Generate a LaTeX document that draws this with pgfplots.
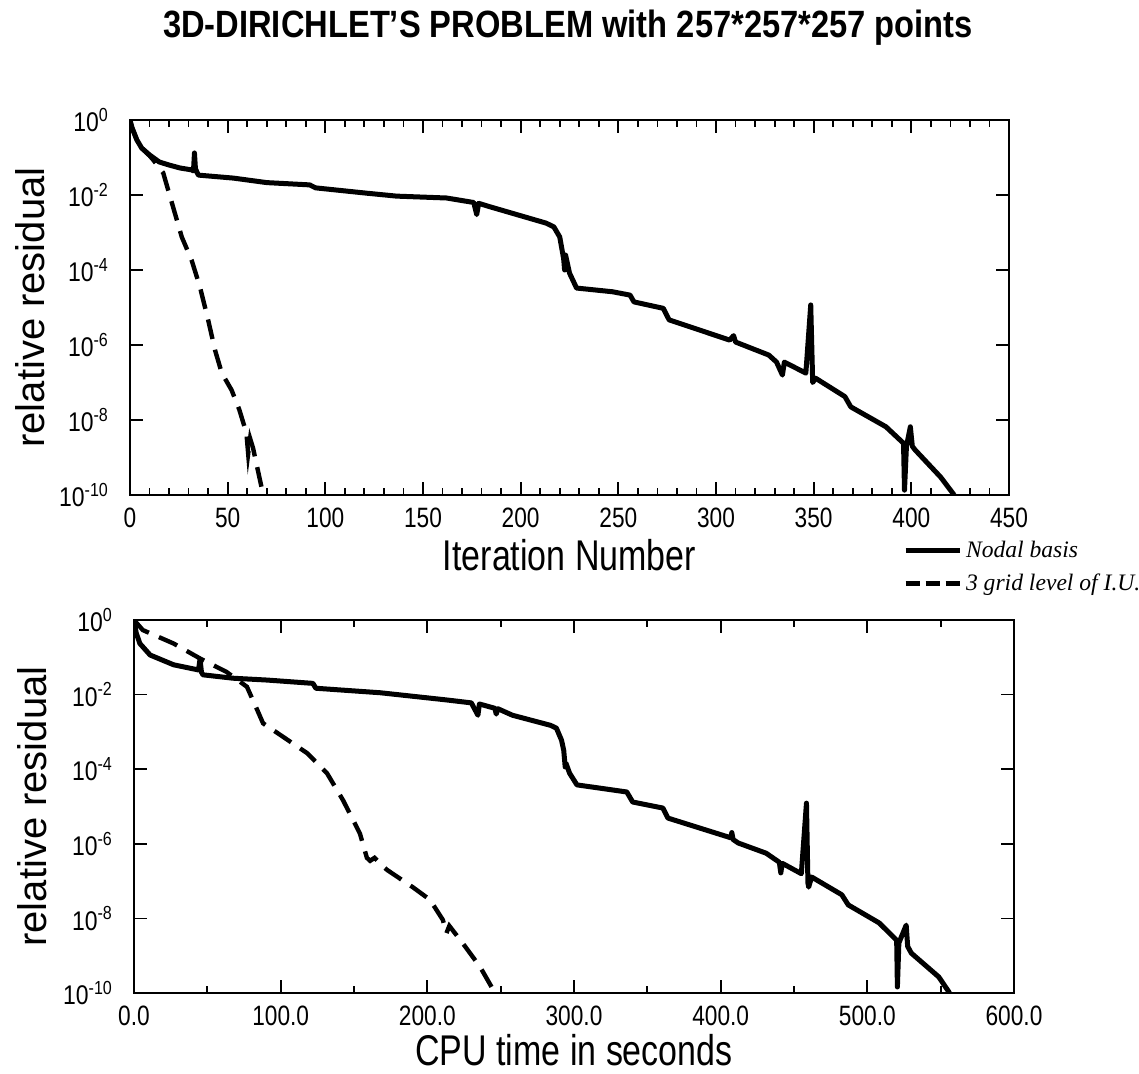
\documentclass[border=0pt]{standalone}
\usepackage{fontspec}
\setmainfont{Liberation Sans}
\newfontfamily\tickfont[FakeStretch=0.81]{Liberation Sans}
\newfontfamily\ytickfont[FakeStretch=0.85]{Liberation Sans}
\newfontfamily\labfont[FakeStretch=0.79]{Liberation Sans}
\newfontfamily\titlefont[FakeStretch=0.86]{Liberation Sans}
\newfontfamily\legfont{Liberation Serif}
\usepackage{pgfplots}
\pgfplotsset{compat=1.18}

\tikzset{
  solidcurve/.style={black, line width=2.5pt, line join=round},
  dashcurve/.style={black, line width=2.2pt, dash pattern=on 10pt off 5.5pt},
}

\begin{document}
\begin{tikzpicture}
\useasboundingbox (-65pt,-289.5pt) rectangle (504.5pt,247.5pt);

\node[anchor=base, font=\titlefont\bfseries\fontsize{19}{22}\selectfont] at (219pt,228.5pt)
  {3D-DIRICHLET’S PROBLEM with 257*257*257 points};

% iterations
\begin{axis}[
  scale only axis,
  at={(0pt,0pt)}, anchor=south west,
  width=439.5pt, height=187.5pt,
  xmin=0, xmax=450,
  ymode=log, ymin=1e-10, ymax=1,
  xtick={0,50,100,150,200,250,300,350,400,450},
  xticklabels={0,50,100,150,200,250,300,350,400,450},
  minor x tick num=4,
  ytick={1e-10,1e-8,1e-6,1e-4,1e-2,1},
  yticklabels={10\textsuperscript{-10},10\textsuperscript{-8},10\textsuperscript{-6},10\textsuperscript{-4},10\textsuperscript{-2},10\textsuperscript{0}},
  yminorticks=false,
  tick align=inside,
  major tick length=6.5pt,
  minor tick length=3.5pt,
  tick style={black, line width=0.9pt},
  axis line style={line width=1pt},
  xticklabel style={font=\tickfont\fontsize{14}{16}\selectfont, yshift=-3pt},
  yticklabel style={font=\ytickfont\fontsize{13.5}{15}\selectfont, xshift=-7pt},
  xlabel={Iteration Number},
  xlabel style={at={(axis description cs:0.5,-0.16)}, anchor=center, font=\labfont\fontsize{21.5}{24}\selectfont},
  ylabel={relative residual},
  ylabel style={at={(axis description cs:-0.114,0.5)}, anchor=center, font=\fontsize{20}{24}\selectfont},
  legend style={at={(axis description cs:0.879,-0.11)}, anchor=north west,
    draw=none, fill=none, inner sep=0pt, row sep=3pt,
    font=\legfont\itshape\fontsize{11.8}{14}\selectfont},
  legend cell align=left,
  legend image code/.code={\draw[#1] (0pt,0pt) -- (27pt,0pt);},
]
\addplot[solidcurve, forget plot] coordinates {
(0,1) (1,0.63) (3.5,0.295) (6,0.178) (10,0.117) (15,0.0759) (20,0.063)
(25.6,0.0525) (31.5,0.0468) (32.5,0.0437) (33,0.132) (33.5,0.05) (35,0.0339)
(53,0.0282) (70,0.0214) (92,0.0186) (95,0.0155) (121,0.0112) (136.5,0.00933)
(162,0.00832) (176,0.00631) (177.5,0.0030) (178.5,0.0060) (184,0.0049)
(213,0.00178) (217,0.00141) (220,7.6e-4) (222,2.0e-4) (222.5,1e-4) (223,2.5e-4)
(225,8.3e-5) (228.6,3.3e-5) (247,2.63e-5) (256,2.14e-5) (258,1.41e-5)
(273,9.5e-6) (276,4.68e-6) (307,1.35e-6) (309,1.78e-6) (310,1.2e-6)
(327,5.4e-7) (331,3.5e-7) (334,1.58e-7) (335,3.5e-7) (346,1.78e-7)
(348.5,1.17e-5) (349.5,1e-7) (351,1.3e-7) (366,4.2e-8) (369,2.24e-8)
(387,6.6e-9) (396,2.4e-9) (396.5,1.35e-10) (397.5,2e-9) (399.5,6.6e-9)
(400.5,2e-9) (402,1.58e-9) (415,3e-10) (421.5,1.07e-10) (422,1e-10)
};
\addplot[dashcurve, forget plot] coordinates {
(0,1) (1,0.63) (3.5,0.295) (6,0.178) (10,0.112) (12,0.085) (17,0.039)
(22,4.9e-3) (26.5,7.6e-4) (31.5,1.86e-4) (35.8,3.55e-5) (40,4.68e-6)
(43.5,7.4e-7) (47,1.78e-7) (52,6.3e-8) (56,1.86e-8) (59.6,4.5e-9)
(60.5,1.26e-9) (61.5,3.2e-9) (63,1.78e-9) (68,1.12e-10) (68.3,1e-10)
};
\addlegendimage{black, line width=2.5pt}
\addlegendentry{Nodal basis}
\addlegendimage{black, line width=2.5pt, dash pattern=on 7pt off 3pt}
\addlegendentry{3 grid level of I.U.}
\end{axis}

% cpu time
\begin{axis}[
  scale only axis,
  at={(2pt,-249pt)}, anchor=south west,
  width=440pt, height=186.5pt,
  xmin=0, xmax=600,
  ymode=log, ymin=1e-10, ymax=1,
  xtick={0,100,200,300,400,500,600},
  xticklabels={0.0,100.0,200.0,300.0,400.0,500.0,600.0},
  minor x tick num=1,
  ytick={1e-10,1e-8,1e-6,1e-4,1e-2,1},
  yticklabels={10\textsuperscript{-10},10\textsuperscript{-8},10\textsuperscript{-6},10\textsuperscript{-4},10\textsuperscript{-2},10\textsuperscript{0}},
  yminorticks=false,
  tick align=inside,
  major tick length=6.5pt,
  minor tick length=3.5pt,
  tick style={black, line width=0.9pt},
  axis line style={line width=1pt},
  xticklabel style={font=\tickfont\fontsize{14}{16}\selectfont, yshift=-3pt},
  yticklabel style={font=\ytickfont\fontsize{13.5}{15}\selectfont, xshift=-7pt},
  xlabel={CPU time in seconds},
  xlabel style={at={(axis description cs:0.5,-0.153)}, anchor=center, font=\labfont\fontsize{21.5}{24}\selectfont},
  ylabel={relative residual},
  ylabel style={at={(axis description cs:-0.116,0.5)}, anchor=center, font=\fontsize{20}{24}\selectfont},
]
\addplot[solidcurve] coordinates {
(0,1) (1.5,0.45) (4,0.234) (11,0.115) (27,0.063) (44,0.0457) (45,0.089)
(46,0.04) (47,0.0339) (67.5,0.0275) (91,0.0245) (122,0.02) (124,0.0148)
(168,0.0112) (213,7.2e-3) (230,6.0e-3) (234.5,2.8e-3) (235.5,5.6e-3)
(246,4.3e-3) (247,3.0e-3) (248,4.2e-3) (258,2.8e-3) (284,1.5e-3)
(288,1.26e-3) (291.5,6.0e-4) (293,3.2e-4) (294,1.15e-4) (294.5,1.45e-4)
(297,7.8e-5) (302,3.8e-5) (336,2.45e-5) (340,1.32e-5) (360.6,9.1e-6)
(364,4.9e-6) (406.9,1.45e-6) (407.6,2.0e-6) (408.5,1.3e-6) (412,1.05e-6)
(431,5.6e-7) (440,3.2e-7) (441,1.66e-7) (442,3.0e-7) (455,1.58e-7)
(458.5,1.23e-5) (459.5,8.9e-8) (460,6.9e-8) (462,1.29e-7) (482.6,4.3e-8)
(487,2.3e-8) (508,7.6e-9) (520,2.6e-9) (520.5,1.45e-10) (521.5,2.2e-9)
(526.5,6.6e-9) (527.5,1.78e-9) (530,1.17e-9) (548.7,2.7e-10)
(555.6,1.07e-10) (556,1e-10)
};
\addplot[dashcurve] coordinates {
(0,1) (6,0.537) (27,0.234) (45,0.093) (63,0.0407) (77,0.0162) (84,3.9e-3)
(88,1.7e-3) (101.6,7.4e-4) (118,2.7e-4) (131.6,7.8e-5) (142.5,1.48e-5)
(154,1.9e-6) (158.8,4.2e-7) (161,3.5e-7) (164,4.2e-7) (172.5,2.0e-7)
(190,6.9e-8) (201.8,3.16e-8) (210.6,9.1e-9) (213,4e-9) (215,6.3e-9)
(224,2.2e-9) (236,5e-10) (245,1.2e-10) (245.5,1e-10)
};
\end{axis}
\end{tikzpicture}
\end{document}
